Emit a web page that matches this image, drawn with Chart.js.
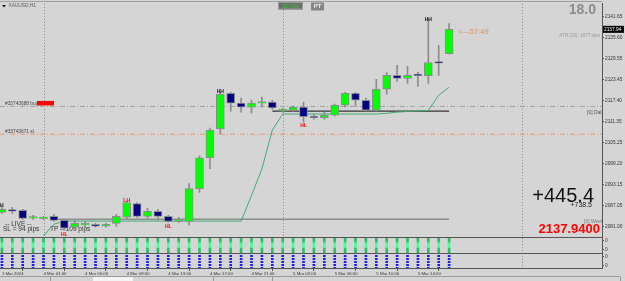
<!DOCTYPE html>
<html>
<head>
<meta charset="utf-8">
<script src="https://cdn.jsdelivr.net/npm/chart.js@4.4.1/dist/chart.umd.min.js"></script>
<style>
  html, body { margin: 0; padding: 0; background: #d5d5d5; }
  #wrap { width: 625px; height: 281px; }
</style>
</head>
<body>
<div id="wrap"><canvas id="mtChart" width="625" height="281"></canvas></div>
<script>
// XAUUSD H1, last candles of 1 Mar 2024 up to 5 Mar 2024 17:00
var opens = [
  2085.02, 2085.74, 2085.59, 2083.38, 2083.21, 2083.87, 2082.72, 2080.71, 2081.43, 2081.57,
  2081.00, 2081.86, 2083.67, 2087.60, 2083.87, 2085.31, 2083.87, 2082.43, 2082.43, 2091.91,
  2100.81, 2109.13, 2119.46, 2116.59, 2115.44, 2116.59, 2116.88, 2114.30, 2114.58, 2115.44,
  2112.72, 2112.37, 2113.15, 2116.02, 2119.46, 2117.45, 2114.58, 2120.61, 2124.63, 2123.77,
  2124.63, 2124.55, 2128.36, 2130.94
];
var highs = [
  2086.74, 2086.45, 2085.88, 2084.16, 2083.87, 2084.44, 2083.01, 2082.72, 2082.43, 2081.86,
  2081.86, 2084.44, 2088.18, 2087.89, 2086.17, 2085.88, 2084.16, 2083.58, 2093.34, 2101.38,
  2109.42, 2119.75, 2119.75, 2118.03, 2117.45, 2118.32, 2117.45, 2115.16, 2115.73, 2116.88,
  2113.44, 2114.01, 2116.31, 2119.75, 2119.75, 2118.03, 2123.48, 2125.49, 2127.50, 2127.21,
  2125.49, 2140.70, 2133.24, 2139.64
];
var lows = [
  2084.73, 2084.73, 2083.01, 2083.01, 2083.01, 2082.43, 2079.85, 2080.14, 2080.43, 2080.71,
  2080.71, 2081.00, 2083.21, 2083.58, 2083.30, 2082.72, 2082.15, 2082.15, 2081.29, 2090.76,
  2097.65, 2107.69, 2114.30, 2114.01, 2113.72, 2115.44, 2114.87, 2114.01, 2114.30, 2111.14,
  2112.00, 2112.00, 2112.86, 2115.44, 2115.73, 2114.30, 2114.30, 2119.18, 2122.91, 2122.33,
  2121.47, 2122.33, 2124.63, 2130.80
];
var closes = [
  2085.88, 2085.39, 2083.30, 2083.67, 2083.58, 2082.72, 2080.43, 2081.86, 2081.45, 2081.00,
  2081.57, 2083.87, 2087.89, 2083.87, 2085.31, 2083.87, 2082.43, 2083.01, 2091.91, 2100.81,
  2108.84, 2119.18, 2116.59, 2115.44, 2116.59, 2116.97, 2115.24, 2114.87, 2115.44, 2112.66,
  2112.37, 2113.15, 2116.02, 2119.46, 2117.45, 2114.58, 2120.61, 2124.63, 2123.77, 2124.63,
  2124.55, 2128.36, 2128.16, 2137.94
];

// trailing stop line (green)
var trail = [
  null, null, null, null, 2078.20, 2081.60, 2082.50, 2082.50, 2082.50, 2082.50,
  2082.50, 2082.50, 2082.50, 2082.50, 2082.50, 2082.50, 2082.50, 2082.50, 2082.50, 2082.50,
  2082.50, 2082.50, 2082.50, 2082.50, 2089.90, 2097.60, 2108.80, 2113.45, 2113.45, 2113.45,
  2113.45, 2113.45, 2113.45, 2113.45, 2113.45, 2113.45, 2113.45, 2113.65, 2114.00, 2114.20,
  2114.35, 2114.50, 2118.90, 2121.20
];

// horizontal levels
var entryLevel = 2115.65;   // "#... buy"
var stopLevel = 2107.61;    // "#... sl"
var greyLevel = { from: 5, to: 43, price: 2083.00 };
var blackLevel = { from: 26, to: 43, price: 2114.30 };

// zigzag labels
var markerIdx = [0, 6, 12, 16, 21, 29, 41];
var markerText = ['H', 'HL', 'LH', 'HL', 'HH', 'HL', 'HH'];

// indicator panes (one bar per candle)
var paneOne = opens.map(function () { return 1; });
var paneTwo = opens.map(function () { return 1; });

// axes
var priceTicks = [2141.65, 2135.60, 2129.55, 2123.45, 2117.40, 2111.35, 2105.25, 2099.20, 2093.15, 2087.05, 2081.00];
var timeTickIdx = [0, 4, 8, 12, 16, 20, 24, 28, 32, 36, 40];
var timeTickLabels = ['1 Mar 2024', '4 Mar 01:00', '4 Mar 05:00', '4 Mar 09:00', '4 Mar 13:00', '4 Mar 17:00',
  '4 Mar 21:00', '5 Mar 02:00', '5 Mar 06:00', '5 Mar 10:00', '5 Mar 14:00'];
var separatorIdx = [4, 27, 50];

var X_MIN = -0.183, X_MAX = 57.70;
var Y_MIN = 2077.84, Y_MAX = 2145.30;
var FONT = 'Liberation Sans, Arial, sans-serif';

var bodies = [], wicks = [], bodyColors = [];
for (var i = 0; i < opens.length; i++) {
  bodies.push({ x: i, y: [opens[i], closes[i]] });
  wicks.push({ x: i, y: [lows[i], highs[i]] });
  bodyColors.push(closes[i] >= opens[i] ? '#00ff00' : '#000080');
}
var trailPts = [];
trail.forEach(function (v, i) { if (v !== null) trailPts.push({ x: i, y: v }); });

function flatLine(from, to, v) { return [{ x: from, y: v }, { x: to, y: v }]; }

var dotCanvas = document.createElement('canvas');
dotCanvas.width = 2; dotCanvas.height = 3;
var dctx = dotCanvas.getContext('2d');
dctx.fillStyle = '#1a1aff';
dctx.fillRect(0, 0, 2, 2);
var dotPattern = dctx.createPattern(dotCanvas, 'repeat');

function paneGradient(ctx) {
  var s = ctx.chart.scales.y2;
  if (!s || !isFinite(s.top)) return '#2cc46a';
  var g = ctx.chart.ctx.createLinearGradient(0, s.top, 0, s.bottom);
  g.addColorStop(0, '#27b862');
  g.addColorStop(0.3, '#2cc46a');
  g.addColorStop(0.36, '#44ff96');
  g.addColorStop(0.64, '#44ff96');
  g.addColorStop(0.7, '#2cc46a');
  g.addColorStop(1, '#27b862');
  return g;
}

function text(c, s, x, y, font, color, align, base) {
  c.font = font;
  c.fillStyle = color;
  c.textAlign = align || 'left';
  c.textBaseline = base || 'middle';
  c.fillText(s, x, y);
}

var overlay = {
  id: 'mtOverlay',
  beforeDraw: function (chart) {
    var c = chart.ctx;
    c.save();
    c.fillStyle = '#d5d5d5';
    c.fillRect(0, 0, chart.width, chart.height);
    c.restore();
  },
  beforeDatasetsDraw: function (chart) {
    var c = chart.ctx, a = chart.chartArea, xs = chart.scales.x;
    c.save();
    c.strokeStyle = '#888';
    c.lineWidth = 1;
    c.setLineDash([1, 2]);
    separatorIdx.forEach(function (i) {
      var px = Math.round(xs.getPixelForValue(i)) + 0.5;
      c.beginPath();
      c.moveTo(px, a.top);
      c.lineTo(px, a.bottom);
      c.stroke();
    });
    c.setLineDash([]);
    // trade info
    text(c, '-- LIVE --', 5, 224.5, '6.5px ' + FONT, '#333');
    text(c, 'SL = 94 pips', 3, 229.5, '6.5px ' + FONT, '#333');
    text(c, 'TP = 109 pips', 50, 229.5, '6.5px ' + FONT, '#333');
    // order labels
    var ys = chart.scales.y;
    var yb = ys.getPixelForValue(entryLevel);
    text(c, '#33743688 buy', 5, yb - 3, '4.8px ' + FONT, '#444');
    c.fillStyle = '#ff0000';
    c.fillRect(37, yb - 5.5, 17, 4.5);
    text(c, '#33743671 sl', 5, ys.getPixelForValue(stopLevel) - 3, '4.8px ' + FONT, '#444');
    c.restore();
  },
  afterDatasetsDraw: function (chart) {
    var c = chart.ctx, a = chart.chartArea, xs = chart.scales.x, ys = chart.scales.y;
    c.save();
    // zigzag labels
    markerIdx.forEach(function (i, k) {
      var t = markerText[k];
      var top = t === 'H' || t === 'HH' || t === 'LH';
      var px = xs.getPixelForValue(i);
      var py = top ? ys.getPixelForValue(highs[i]) - 0.5 : ys.getPixelForValue(lows[i]) + 4;
      text(c, t, px, py, 'bold 5px ' + FONT, t === 'H' || t === 'HH' ? '#111' : '#ff0000', 'center');
    });
    // pane separators
    c.strokeStyle = '#555';
    c.lineWidth = 1;
    [chart.scales.y2.top, chart.scales.y3.top].forEach(function (yy) {
      c.beginPath();
      c.moveTo(a.left, Math.round(yy) + 0.5);
      c.lineTo(a.right, Math.round(yy) + 0.5);
      c.stroke();
    });
    c.beginPath();
    c.moveTo(a.left, 1.5);
    c.lineTo(a.right, 1.5);
    c.strokeStyle = '#a0a0a0';
    c.stroke();
    // header
    c.fillStyle = '#111';
    c.beginPath();
    c.moveTo(2, 5); c.lineTo(6, 5); c.lineTo(4, 7.5); c.closePath();
    c.fill();
    text(c, 'XAUUSD,H1', 8.5, 6, '4.8px ' + FONT, '#555');
    // ZZ ON / PT buttons
    c.fillStyle = '#6e6e6e';
    c.fillRect(278, 2.5, 25, 7);
    c.strokeStyle = '#9a9a9a';
    c.strokeRect(278.5, 2.5, 24, 6.5);
    text(c, 'ZZ ON', 290.5, 6, '5.5px ' + FONT, '#22d022', 'center');
    c.fillStyle = '#858585';
    c.fillRect(311, 2.5, 13, 8);
    text(c, 'PT', 317.5, 6.8, 'bold 6px ' + FONT, '#eeeeee', 'center');
    // right hand info
    text(c, '18.0', 596, 10, 'bold 14px ' + FONT, '#8c8c8c', 'right');
    text(c, 'ATR (20): 1077 pips', 600, 35.5, '4.6px ' + FONT, '#999', 'right');
    text(c, '<---57:49', 458, 32, '7.5px ' + FONT, '#e3944f');
    c.save();
    c.beginPath();
    c.rect(a.left, a.top, a.right - a.left, a.bottom - a.top);
    c.clip();
    text(c, '[0] Daily', 587, 113, '5px ' + FONT, '#555');
    text(c, '[0] Weekly', 584, 222, '5px ' + FONT, '#777');
    c.restore();
    text(c, '+445.4', 594, 201.5, '20px ' + FONT, '#111', 'right', 'alphabetic');
    text(c, '+738.5', 592, 205.5, '7px ' + FONT, '#222', 'right');
    text(c, '2137.9400', 600, 229, 'bold 13px ' + FONT, '#ff0000', 'right');
    c.restore();
  },
  afterDraw: function (chart) {
    var c = chart.ctx, ys = chart.scales.y;
    c.save();
    var py = ys.getPixelForValue(closes[closes.length - 1]);
    c.fillStyle = '#000';
    c.fillRect(603, py - 3.5, 21, 7);
    text(c, closes[closes.length - 1].toFixed(2), 604, py, '4.8px ' + FONT, '#fff');
    // tab strip
    c.strokeStyle = '#9a9a9a';
    c.beginPath();
    c.moveTo(0, 276.5); c.lineTo(620, 276.5);
    c.stroke();
    c.fillStyle = '#f4f4f4';
    c.fillRect(93, 277, 40, 4);
    [50, 213, 272, 620].forEach(function (sx) {
      c.beginPath(); c.moveTo(sx + 0.5, 277); c.lineTo(sx + 0.5, 281); c.stroke();
    });
    c.restore();
  }
};

var ctx = document.getElementById('mtChart').getContext('2d');
var mtChart = new Chart(ctx, {
  type: 'bar',
  data: {
    datasets: [
      {
        type: 'line', data: flatLine(X_MIN, X_MAX, entryLevel), yAxisID: 'y',
        borderColor: '#a2a2a2', borderWidth: 1, borderDash: [5, 2, 1, 2], pointRadius: 0, order: 10
      },
      {
        type: 'line', data: flatLine(X_MIN, X_MAX, stopLevel), yAxisID: 'y',
        borderColor: '#e79a6c', borderWidth: 1, borderDash: [5, 2, 1, 2], pointRadius: 0, order: 10
      },
      {
        type: 'line', data: flatLine(greyLevel.from, greyLevel.to, greyLevel.price), yAxisID: 'y',
        borderColor: '#8e8e8e', borderWidth: 1.5, pointRadius: 0, order: 9
      },
      {
        type: 'line', data: flatLine(blackLevel.from, blackLevel.to, blackLevel.price), yAxisID: 'y',
        borderColor: '#333', borderWidth: 1.2, pointRadius: 0, order: 9
      },
      {
        type: 'line', data: trailPts, yAxisID: 'y',
        borderColor: '#3fae74', borderWidth: 1, pointRadius: 0, tension: 0, order: 8
      },
      {
        data: wicks, yAxisID: 'y', backgroundColor: '#8c8c8c',
        barThickness: 1, grouped: false, order: 5
      },
      {
        data: bodies, yAxisID: 'y', backgroundColor: bodyColors,
        borderColor: '#8a8f8a', borderWidth: 1, borderSkipped: false,
        barThickness: 8, minBarLength: 1.5, grouped: false, order: 4
      },
      {
        data: paneOne.map(function (v, i) { return { x: i, y: v }; }), yAxisID: 'y2',
        backgroundColor: paneGradient, barThickness: 2, grouped: false, order: 3
      },
      {
        data: paneTwo.map(function (v, i) { return { x: i, y: v }; }), yAxisID: 'y3',
        backgroundColor: dotPattern, barThickness: 2, grouped: false, order: 3
      }
    ]
  },
  options: {
    responsive: false,
    animation: false,
    events: [],
    layout: { padding: { top: 2, left: 0, right: 0, bottom: 0 } },
    plugins: { legend: { display: false }, tooltip: { enabled: false } },
    scales: {
      x: {
        type: 'linear', position: 'bottom', min: X_MIN, max: X_MAX, offset: false,
        grid: { drawOnChartArea: false, tickLength: 3, color: '#555' },
        border: { color: '#555' },
        ticks: {
          autoSkip: false, maxRotation: 0, align: 'start', padding: 0,
          font: { size: 4.3, family: FONT }, color: '#333',
          callback: function (v, idx) { return timeTickLabels[idx]; }
        },
        afterBuildTicks: function (s) { s.ticks = timeTickIdx.map(function (v) { return { value: v }; }); },
        afterFit: function (s) { s.height = 13; }
      },
      y: {
        position: 'right', stack: 'panes', stackWeight: 235, weight: 1,
        min: Y_MIN, max: Y_MAX,
        grid: { drawOnChartArea: false, tickLength: 2, color: '#555' },
        border: { color: '#555' },
        ticks: {
          autoSkip: false, padding: 1, font: { size: 4.8, family: FONT }, color: '#333',
          callback: function (v) { return v.toFixed(2); }
        },
        afterBuildTicks: function (s) { s.ticks = priceTicks.map(function (v) { return { value: v }; }); },
        afterFit: function (s) { s.width = 23; }
      },
      y2: {
        position: 'right', stack: 'panes', stackWeight: 16, weight: 2,
        min: 0, max: 1,
        grid: { drawOnChartArea: false, tickLength: 2, color: '#555' },
        border: { color: '#555' },
        ticks: { autoSkip: false, padding: 1, font: { size: 4.8, family: FONT }, color: '#333', callback: function () { return '0'; } },
        afterBuildTicks: function (s) { s.ticks = [{ value: 0.77 }, { value: 0.23 }]; },
        afterFit: function (s) { s.width = 23; }
      },
      y3: {
        position: 'right', stack: 'panes', stackWeight: 15, weight: 3,
        min: 0, max: 1,
        grid: { drawOnChartArea: false, tickLength: 2, color: '#555' },
        border: { color: '#555' },
        ticks: { autoSkip: false, padding: 1, font: { size: 4.8, family: FONT }, color: '#333', callback: function () { return '0'; } },
        afterBuildTicks: function (s) { s.ticks = [{ value: 0.75 }, { value: 0.15 }]; },
        afterFit: function (s) { s.width = 23; }
      }
    }
  },
  plugins: [overlay]
});
</script>
</body>
</html>
